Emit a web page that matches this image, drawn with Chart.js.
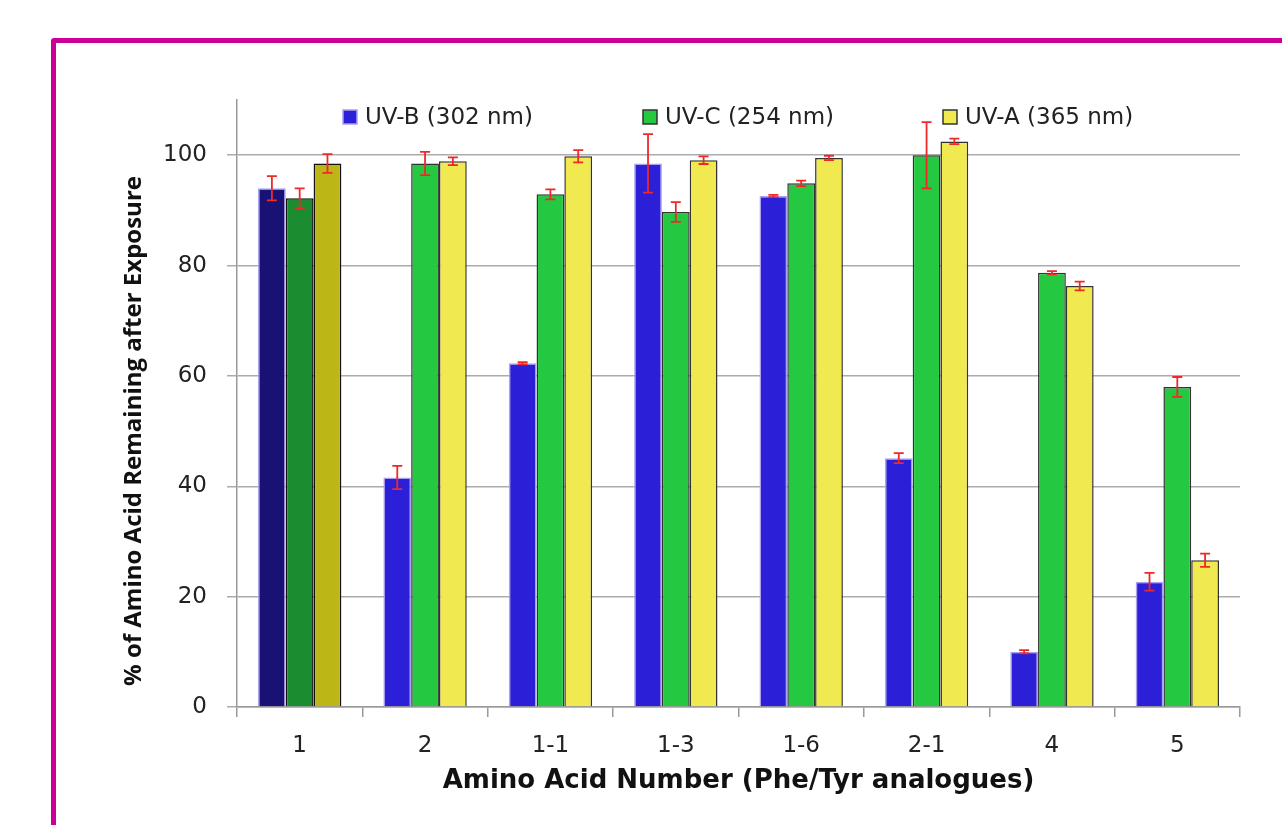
<!DOCTYPE html>
<html>
<head>
<meta charset="utf-8">
<title>Amino acid UV exposure</title>
<script src="https://cdn.jsdelivr.net/npm/chart.js@4.4.1/dist/chart.umd.min.js"></script>
<style>
  html, body { margin: 0; padding: 0; background: #fff; overflow: hidden; }
  #wrap { position: relative; width: 1282px; height: 825px; }
  #frame {
    position: absolute; left: 51px; top: 38px; width: 1300px; height: 900px;
    border: 5px solid #cc0099; border-radius: 3px; box-sizing: border-box;
  }
  canvas { position: absolute; left: 0; top: 0; }
</style>
</head>
<body>
<div id="wrap">
  <div id="frame"></div>
  <canvas id="chart" width="1282" height="825"></canvas>
</div>
<script>
// --- Data ---
const categories = ['1', '2', '1-1', '1-3', '1-6', '2-1', '4', '5'];
const seriesLabels = ['UV-B (302 nm)', 'UV-C (254 nm)', 'UV-A (365 nm)'];

const uvB    = [94.0, 41.6, 62.3, 98.5, 92.6, 45.1, 10.0, 22.7];
const uvBErr = [2.2, 2.1, 0.2, 5.3, 0.2, 0.9, 0.3, 1.6];
const uvC    = [92.2, 98.5, 92.9, 89.7, 94.9, 100.0, 78.7, 58.0];
const uvCErr = [1.8, 2.1, 0.9, 1.8, 0.5, 6.0, 0.3, 1.8];
const uvA    = [98.5, 98.9, 99.8, 99.1, 99.5, 102.5, 76.3, 26.6];
const uvAErr = [1.7, 0.7, 1.1, 0.7, 0.4, 0.5, 0.8, 1.2];

const yTicks = [0, 20, 40, 60, 80, 100];

// --- Colours ---
// first group (compound 1) is drawn in darker shades in the original
const blue = '#2b1fd8', blueDark = '#1a1174', blueEdge = '#a9a2f0';
const green = '#24c941', greenDark = '#1c8c30';
const yellow = '#f0ea50', yellowDark = '#bcb716';
const edge = '#333333';
const errColor = '#f02828';

const shade = (base, dark) => categories.map((c, i) => i === 0 ? dark : base);

const TICK_FONT = { family: "'DejaVu Sans', sans-serif", size: 23 };

// --- Error bars ---
const errorBars = {
  id: 'errorBars',
  afterDatasetsDraw(chart) {
    const { ctx, scales: { y } } = chart;
    ctx.save();
    ctx.strokeStyle = errColor;
    ctx.lineWidth = 1.8;
    chart.data.datasets.forEach((ds, di) => {
      const meta = chart.getDatasetMeta(di);
      meta.data.forEach((bar, i) => {
        const v = ds.data[i], e = ds.errors[i];
        const top = y.getPixelForValue(v + e);
        const bot = y.getPixelForValue(v - e);
        ctx.beginPath();
        ctx.moveTo(bar.x, top); ctx.lineTo(bar.x, bot);
        ctx.moveTo(bar.x - 5, top); ctx.lineTo(bar.x + 5, top);
        ctx.moveTo(bar.x - 5, bot); ctx.lineTo(bar.x + 5, bot);
        ctx.stroke();
      });
    });
    ctx.restore();
  }
};

// --- Legend inside the plot area + rotated y title ---
const insideLegend = {
  id: 'insideLegend',
  afterDraw(chart) {
    const { ctx, chartArea } = chart;
    ctx.save();
    ctx.font = "23px 'DejaVu Sans', sans-serif";
    ctx.textBaseline = 'middle';
    const cy = chartArea.top + 17;
    chart.data.datasets.forEach((ds, i) => {
      const bx = chartArea.left + 106 + i * 300;
      ctx.fillStyle = ds.legendColor;
      ctx.fillRect(bx, cy - 7, 14, 14);
      ctx.lineWidth = 1.5;
      ctx.strokeStyle = ds.legendEdge;
      ctx.strokeRect(bx, cy - 7, 14, 14);
      ctx.fillStyle = '#222';
      ctx.fillText(ds.label, bx + 22, cy + 1);
    });

    // y axis title
    ctx.translate(134, 431);
    ctx.rotate(-Math.PI / 2);
    ctx.font = "bold 24px 'Open Sans', sans-serif";
    ctx.textAlign = 'center';
    ctx.fillStyle = '#111';
    ctx.fillText('% of Amino Acid Remaining after Exposure', 0, 0);
    ctx.restore();
  }
};

function dataset(label, values, errors, colors, borders, legendColor, legendEdge) {
  return {
    label,
    data: values,
    errors,
    backgroundColor: colors,
    borderColor: borders,
    borderWidth: 1.5,
    borderSkipped: 'bottom',
    legendColor,
    legendEdge,
  };
}

new Chart(document.getElementById('chart'), {
  type: 'bar',
  data: {
    labels: categories,
    datasets: [
      dataset(seriesLabels[0], uvB, uvBErr, shade(blue, blueDark), blueEdge, blue, blueEdge),
      dataset(seriesLabels[1], uvC, uvCErr, shade(green, greenDark), shade(edge, '#111'), green, edge),
      dataset(seriesLabels[2], uvA, uvAErr, shade(yellow, yellowDark), shade(edge, '#111'), yellow, edge),
    ],
  },
  options: {
    responsive: false,
    animation: false,
    layout: { padding: { left: 110, top: 100, right: 42, bottom: 25 } },
    datasets: { bar: { categoryPercentage: 0.665, barPercentage: 1.0 } },
    plugins: {
      legend: { display: false },
      tooltip: { enabled: false },
    },
    scales: {
      x: {
        afterFit: s => { s.height = 93; },
        grid: { offset: true, drawOnChartArea: false, color: '#9a9a9a', lineWidth: 1.5, tickLength: 10 },
        border: { color: '#9a9a9a', width: 1.5 },
        ticks: { color: '#222', font: TICK_FONT, padding: 15 },
        title: {
          display: true,
          text: 'Amino Acid Number (Phe/Tyr analogues)',
          color: '#111',
          font: { family: "'DejaVu Sans', sans-serif", size: 26, weight: 'bold' },
          padding: { top: 0, bottom: 3 },
        },
      },
      y: {
        min: 0,
        max: 110,
        afterFit: s => { s.width = 127; },
        afterBuildTicks: s => { s.ticks = yTicks.map(v => ({ value: v })); },
        grid: { color: '#ababab', lineWidth: 1.5, tickLength: 10 },
        border: { color: '#9a9a9a', width: 1.5 },
        ticks: { color: '#222', font: TICK_FONT, padding: 20 },
      },
    },
  },
  plugins: [errorBars, insideLegend],
});
</script>
</body>
</html>
